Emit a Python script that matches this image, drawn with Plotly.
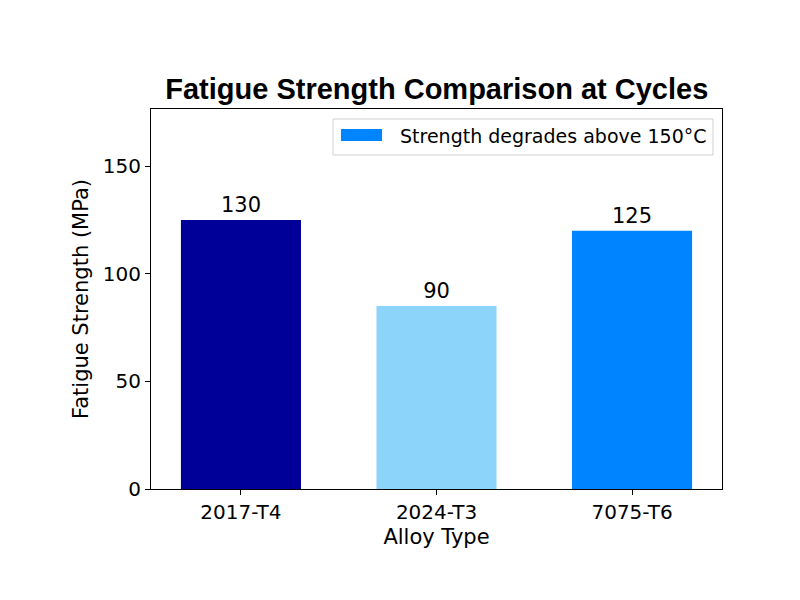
import plotly.graph_objects as go

categories = ["2017-T4", "2024-T3", "7075-T6"]
values = [125, 85, 120]
label_texts = ["130", "90", "125"]
colors = ["#000099", "#8dd4fa", "#0084ff"]
legend_name = "Strength degrades above 150°C"
legend_color = "#0084ff"

fig = go.Figure()
fig.add_trace(go.Bar(
    x=[0, 1, 2], y=values, width=0.614,
    marker=dict(color=colors, line=dict(width=0)),
    text=label_texts, textposition="outside",
    textfont=dict(family="DejaVu Sans", size=21, color="black"),
    cliponaxis=False, showlegend=False, textangle=0,
))

# manual matplotlib-like legend (box, wide patch, text)
fig.add_shape(type="rect", xref="paper", yref="paper",
              x0=0.3187, x1=0.9842, y0=0.8789, y1=0.9737,
              line=dict(color="#d0d0d0", width=1), fillcolor="white", layer="above")
fig.add_shape(type="rect", xref="paper", yref="paper",
              x0=0.3327, x1=0.4046, y0=0.9158, y1=0.9474,
              line=dict(width=0), fillcolor=legend_color, layer="above")
fig.add_annotation(text=legend_name, xref="paper", yref="paper",
                   x=0.4326, y=0.9289, xanchor="left", yanchor="middle",
                   showarrow=False,
                   font=dict(family="DejaVu Sans", size=19, color="black"))

fig.update_layout(
    width=800, height=600,
    paper_bgcolor="white", plot_bgcolor="white",
    margin=dict(l=143, r=86, t=101, b=119),
    showlegend=False,
    title=dict(text="<b>Fatigue Strength Comparison at Cycles</b>",
               x=0.536, xanchor="center", y=0.866, yanchor="middle",
               font=dict(family="Liberation Sans", size=29, color="black")),
    font=dict(family="DejaVu Sans", size=20, color="black"),
    xaxis=dict(range=[-0.46, 2.46], tickvals=[0, 1, 2], ticktext=categories,
               showline=True, linecolor="black", linewidth=1, mirror=True,
               ticks="outside", ticklen=5, tickcolor="black",
               showgrid=False, zeroline=False,
               title=dict(text="Alloy Type", font=dict(size=21), standoff=6),
               tickfont=dict(size=20)),
    yaxis=dict(range=[0, 176.5], tickvals=[0, 50, 100, 150],
               showline=True, linecolor="black", linewidth=1, mirror=True,
               ticks="outside", ticklen=5, tickcolor="black",
               showgrid=False, zeroline=False,
               title=dict(text="Fatigue Strength (MPa)", font=dict(size=21), standoff=8),
               tickfont=dict(size=20)),
)
fig.write_html("out.html")
